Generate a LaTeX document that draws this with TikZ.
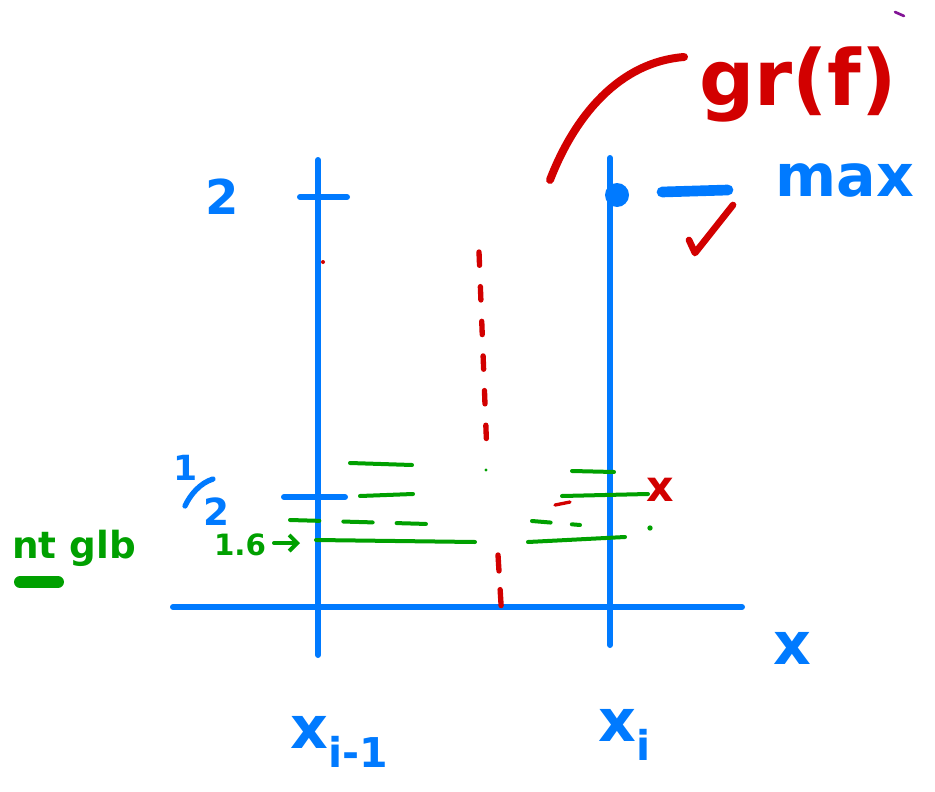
\documentclass[tikz,border=0pt]{standalone}
\usepackage{fontspec}
\usetikzlibrary{arrows.meta}
\setmainfont{DejaVu Sans}
\definecolor{pblue}{RGB}{0,122,255}
\definecolor{pred}{RGB}{210,0,0}
\definecolor{pgreen}{RGB}{0,160,0}
\definecolor{ppurple}{RGB}{130,20,150}
\tikzset{
  bl/.style={draw=pblue,line width=4.5pt,line cap=round},
  rd/.style={draw=pred,line width=5pt,line cap=round},
  gn/.style={draw=pgreen,line width=3pt,line cap=round},
  gdash/.style={draw=pgreen,line width=3pt,line cap=round,dash pattern=on 22pt off 18pt},
  rdash/.style={draw=pred,line width=4pt,line cap=round,dash pattern=on 10pt off 16pt},
  lab/.style={inner sep=0pt}
}
\newcommand{\fsz}[1]{\fontsize{#1}{#1}\selectfont\bfseries}
\begin{document}
\begin{tikzpicture}[x=0.75pt,y=-0.75pt]
\useasboundingbox (0,0) rectangle (935,792);
% axes
\coordinate (l1) at (318,160); \coordinate (l2) at (318,655);
\coordinate (r1) at (610,158); \coordinate (r2) at (610,645);
\coordinate (a1) at (173,607); \coordinate (a2) at (742,607);
\draw[bl] (l1) -- (l2);
\draw[bl] (r1) -- (r2);
\draw[bl] (a1) -- (a2);
% ticks
\coordinate (t2a) at (300,197); \coordinate (t2b) at (347,197);
\draw[bl] (t2a) -- (t2b);
\coordinate (tha) at (284,497); \coordinate (thb) at (345,497);
\draw[bl] (tha) -- (thb);
\node[lab,text=pblue,font=\fsz{36}] (two) at (222,197) {2};
% 1/2
\node[lab,text=pblue,font=\fsz{26}] (hone) at (186,468) {1};
\coordinate (s1) at (213,479); \coordinate (s2) at (185,506);
\draw[bl,line width=4pt] (s1) .. controls (200,483) and (190,495) .. (s2);
\node[lab,text=pblue,font=\fsz{28}] (htwo) at (216,512) {2};
% max
\fill[pblue] (617,195) circle (9pt);
\coordinate (m1) at (662,192); \coordinate (m2) at (728,190);
\draw[bl,line width=8pt] (m1) -- (m2);
\node[lab,text=pblue,font=\fsz{44}] (max) at (845,180) {max};
% check mark
\coordinate (c1) at (689,240); \coordinate (c2) at (695,253); \coordinate (c3) at (733,205);
\draw[rd,line join=round] (c1) -- (c2) -- (c3);
% gr(f)
\coordinate (g1) at (550,180); \coordinate (g2) at (684,57);
\draw[rd,line width=6pt] (g1) .. controls (575,115) and (620,62) .. (g2);
\node[lab,text=pred,font=\fsz{58}] (grf) at (798,84) {gr(f)};
\coordinate (pp1) at (895,12); \coordinate (pp2) at (904,16);
\draw[draw=ppurple,line width=2pt,line cap=round] (pp1) -- (pp2);
% red graph
\fill[pred] (323,262) circle (1.5pt);
\coordinate (d1) at (479,252); \coordinate (d2) at (487,455);
\draw[rdash] (d1) -- (d2);
\coordinate (d3) at (498,555); \coordinate (d4) at (502,620);
\draw[rdash,dash pattern=on 12pt off 14pt] (d3) -- (d4);
\coordinate (rs1) at (555,505); \coordinate (rs2) at (570,502);
\draw[rd,line width=2.5pt] (rs1) -- (rs2);
% red X
\node[lab,text=pred,font=\fsz{32}] (xmark) at (660,490) {x};
% green lines
\coordinate (ga1) at (350,463); \coordinate (ga2) at (412,465);
\draw[gn] (ga1) -- (ga2);
\coordinate (gb1) at (360,496); \coordinate (gb2) at (413,494);
\draw[gn] (gb1) -- (gb2);
\coordinate (gc1) at (290,520); \coordinate (gc2) at (428,524);
\draw[gdash] (gc1) -- (gc2);
\coordinate (gd1) at (316,540); \coordinate (gd2) at (475,542);
\draw[gn] (gd1) -- (gd2);
\coordinate (ge1) at (572,471); \coordinate (ge2) at (614,472);
\draw[gn] (ge1) -- (ge2);
\coordinate (gf1) at (562,496); \coordinate (gf2) at (648,494);
\draw[gn] (gf1) -- (gf2);
\coordinate (gg1) at (532,521); \coordinate (gg2) at (580,525);
\draw[gdash,dash pattern=on 14pt off 16pt] (gg1) -- (gg2);
\coordinate (gh1) at (528,542); \coordinate (gh2) at (625,537);
\draw[gn] (gh1) -- (gh2);
\fill[pgreen] (650,528) circle (2pt);
\fill[pgreen] (486,470) circle (1.2pt);
% 1.6 arrow
\node[lab,text=pgreen,font=\fsz{22}] (onesix) at (240,545) {1.6};
\coordinate (ar) at (300,543);
\coordinate (as) at (274,543);
\draw[gn,-{Straight Barb[length=6pt]}] (as) -- (ar);
% nt glb
\node[lab,text=pgreen,font=\fsz{28}] (ntglb) at (74,548) {nt glb};
\coordinate (u1) at (20,582); \coordinate (u2) at (58,582);
\draw[gn,line width=9pt] (u1) -- (u2);
% labels
\node[lab,text=pblue,font=\fsz{44}] (xax) at (792,648) {x};
\node[lab,text=pblue,font=\fsz{44}] (xim1) at (340,742) {x\textsubscript{i-1}};
\node[lab,text=pblue,font=\fsz{44}] (xi) at (625,735) {x\textsubscript{i}};
\end{tikzpicture}
\end{document}
